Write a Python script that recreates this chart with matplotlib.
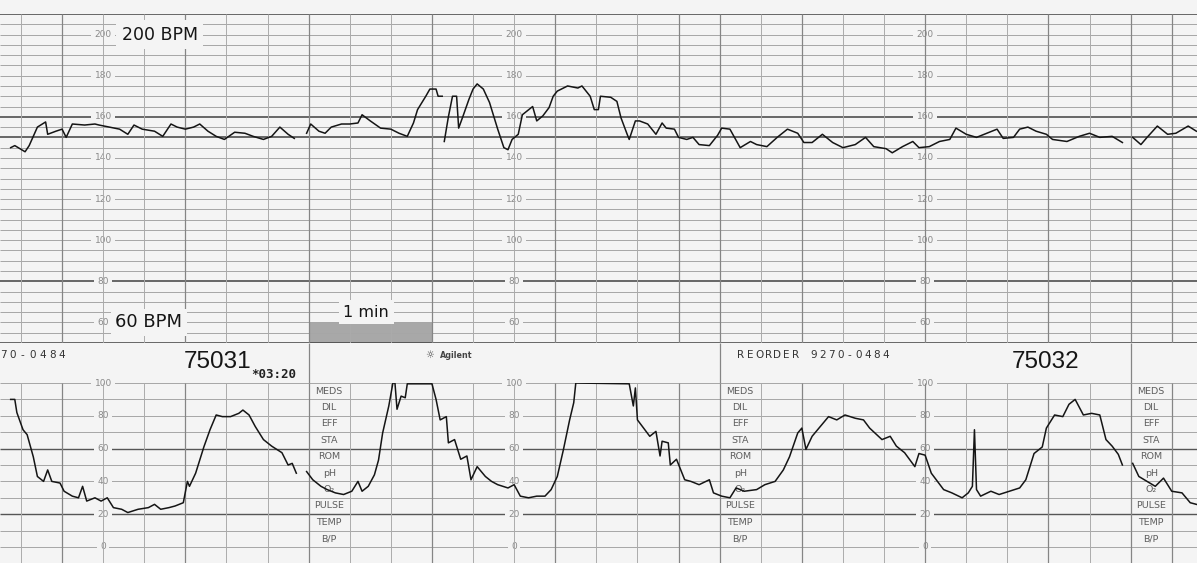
import numpy as np
import matplotlib.pyplot as plt
from matplotlib.patches import Rectangle

nan = np.nan

# time in seconds from the first minute line of the strip
fhr_t = [-25, -23, -18, -16, -12, -8, -7, -3, 0, 2, 5, 11, 16, 18, 23, 28, 32, 35, 39, 45,
         49, 53, 56, 60, 64, 67, 71, 75, 79, 84, 89, 93, 98, 102, 106, 110, 113, nan,
         119, 121, 125, 128, 131, 136, 140, 144, 146, 150, 155, 160, 164, 168, 171, 173, 177,
         179, 182, 183, 185, nan,
         186, 188, 190, 192, 193, 195, 198, 200, 202, 205, 208, 212, 215, 217, 219, 222, 224,
         229, 231, 234, 237, 239, 241, 246, 251, 253, 257, 259, 261, 262, 267, 270, 272, 275,
         276, 279, 281, 285, 289, 292, 294, 298, 300, 304, 307, 310, 315, 319, 321, 325, 330,
         335, 338, 343, 348, 353, 358, 361, 365, 370, 375, 380, 386, 391, 395, 401, 404, 409,
         414, 417, 422, 427, 432, 435, 440, 445, 450, 455, 458, 463, 466, 470, 474, 479, 482,
         489, 495, 500, 505, 511, 516, nan,
         521, 525, 528, 533, 538, 542, 548, 552]
fhr_bpm = [145, 146, 143, 146, 155, 157.5, 151.5, 153, 154, 150, 156.5, 156, 156.5, 156, 155,
           154, 151.5, 156, 154, 153, 150.5, 156.5, 155, 154, 155, 156.5, 153, 150.5, 149,
           152.5, 152, 150.5, 149, 150.5, 155, 151.5, 149.5, nan,
           152, 156.5, 153, 152, 155, 156.5, 156.5, 157, 161, 158, 154.5, 154, 152, 150.5, 157,
           163.5, 170, 173.5, 173.5, 170, 170, nan,
           148, 160, 170, 170, 154.5, 160, 168.5, 173.5, 176, 173.5, 167, 154, 145, 144, 149,
           151.5, 161, 165, 158, 160.5, 164.5, 170, 172.5, 175, 174, 175, 170, 163.5, 163.5,
           170, 169.5, 167.5, 159.5, 151.5, 149, 158, 158, 156.5, 151.5, 157, 154.5, 154, 150,
           149, 150, 146.5, 146, 151, 154.5, 154, 145, 148, 146.5, 145.5, 150, 154, 152, 147.5,
           147.5, 151.5, 147.5, 145, 146.5, 150, 145.5, 144.5, 142.5, 145.5, 148, 145, 145.5,
           148, 149, 154.5, 151.5, 150, 152, 154, 149.5, 150, 154, 155, 153, 151.5, 149, 148,
           150.5, 152, 150, 150.5, 147.5, nan,
           150, 146.5, 150, 155.5, 151.5, 152, 155.5, 153]

toco_t = [-25, -23, -22, -19, -17, -14, -12, -9, -7, -5, -1, 1, 5, 8, 10, 12, 16, 19, 22, 25,
          29, 32, 37, 42, 45, 48, 52, 55, 59, 61, 62, 65, 69, 72, 75, 78, 82, 86, 88, 91, 94,
          98, 102, 107, 110, 112, 114, nan,
          119, 122, 126, 129, 133, 137, 141, 144, 146, 149, 152, 154, 156, 159, 161, 162, 163,
          165, 167, 168, 180, 182, 184, 187, 188, 191, 194, 197, 199, 202, 206, 209, 212, 217,
          220, 223, 227, 231, 235, 238, 241, 244, 247, 249, 250, 276, 278, 279, 280, 283, 286,
          289, 291, 292, 295, 296, 299, 303, 306, 310, 315, 317, 321, 325, 328, 332, 338, 342,
          347, 351, 354, 358, 360, 362, 365, 369, 373, 377, 381, 386, 390, 393, 399, 403, 406,
          410, 415, 417, 420, 423, 429, 433, 438, 441, 443, 444, 445, 447, 452, 456, 461, 466,
          469, 473, 477, 479, 483, 487, 490, 493, 497, 501, 505, 508, 511, 514, 516, nan,
          521, 524, 528, 532, 536, 540, 545, 549, 552]
toco_val = [90, 90, 82, 71.5, 68.5, 55, 43, 40, 47, 40, 39, 34, 31, 30, 37, 28, 30, 28, 30, 24,
            23, 21, 23, 24, 26, 23, 24, 25, 27, 40, 37, 45, 61, 71.5, 80.5, 79.5, 79.5, 81.5,
            83.5, 80.5, 73.5, 65.5, 61.5, 57.5, 50, 51, 45, nan,
            46, 41, 37, 35, 33, 32, 34, 40, 34, 37, 44, 53, 69.5, 86, 100, 100, 84, 92, 91,
            99.5, 99.5, 90, 77.5, 79.5, 63.5, 65.5, 53.5, 55.5, 41, 49, 43, 40, 38, 36, 38, 31,
            30, 31, 31, 35, 43, 59.5, 77.5, 88, 100, 99.5, 86, 97, 77.5, 72.5, 67.5, 70.5, 55.5,
            64.5, 63.5, 50, 53.5, 41, 40, 38, 41, 33, 31, 30, 36, 34, 35, 38, 40, 47, 55, 69.5,
            72.5, 59.5, 67.5, 73.5, 79.5, 77.5, 80.5, 78.5, 77.5, 72.5, 65.5, 67.5, 61.5, 57.5,
            49, 57, 56, 45, 35, 33, 30, 33, 37, 71.5, 35, 31, 34, 32, 34, 36, 41, 57, 61, 72.5,
            80.5, 79.5, 87, 90, 80.5, 81.5, 80.5, 65.5, 61.5, 56.5, 50, nan,
            51, 43, 40, 37, 42, 34, 33, 27, 26]

fhr_labels = [60, 80, 100, 120, 140, 160, 180, 200]
toco_labels = [0, 20, 40, 60, 80, 100]
label_cols = [20, 220, 420]
meds_rows = ["MEDS", "DIL", "EFF", "STA", "ROM", "pH", "O₂", "PULSE", "TEMP", "B/P"]
meds_cols = [130, 330, 530]
page_marks = [120, 320, 520]

W, H = 1197, 563
T0, T1 = -30.2, 552.3
BG = '#f4f4f4'
INK = '#151515'

fig = plt.figure(figsize=(W / 100, H / 100), dpi=100)
fig.patch.set_facecolor(BG)

# whole-figure axes: x in seconds, y in pixel rows, for the header band
bg = fig.add_axes([0, 0, 1, 1])
bg.set_xlim(T0, T1)
bg.set_ylim(H, 0)
bg.axis('off')


def strip(top, bottom, lo, hi):
    ax = fig.add_axes([0, 1 - bottom / H, 1, (bottom - top) / H])
    ax.set_xlim(T0, T1)
    ax.set_ylim(lo, hi)
    ax.set_facecolor('none')
    ax.axis('off')
    return ax


fhr_ax = strip(14, 343, 50, 210)
toco_ax = strip(383, 563, -9.76, 100)

vt = np.arange(-20, 560, 20)
for ax, lo, hi in [(fhr_ax, 50, 210), (toco_ax, -9.76, 100)]:
    light = [t for t in vt if t % 60 and t not in page_marks]
    heavy = [t for t in vt if not t % 60 or t in page_marks]
    ax.vlines(light, lo, hi, color='#ababab', lw=0.7, zorder=2.5)
    ax.vlines(heavy, lo, hi, color='#858585', lw=0.9, zorder=2.5)

# FHR grid, every 5 bpm
for v in range(50, 211, 5):
    dark = v in (50, 80, 150, 160, 210)
    fhr_ax.hlines(v, T0, T1, color='#404040' if dark else '#a6a6a6',
                  lw=1.1 if dark else 0.7, zorder=1.5)
# toco grid, every 10
for v in range(0, 101, 10):
    dark = v in (20, 60)
    toco_ax.hlines(v, T0, T1, color='#555555' if dark else '#a6a6a6',
                   lw=1.0 if dark else 0.7, zorder=1.5)

for c in label_cols:
    for v in fhr_labels:
        fhr_ax.text(c, v, str(v), ha='center', va='center', fontsize=6.5, color='#8a8a8a',
                    zorder=2, bbox=dict(fc=BG, ec='none', pad=2.5))
    for v in toco_labels:
        toco_ax.text(c, v, str(v), ha='center', va='center', fontsize=6.5, color='#8a8a8a',
                     zorder=2, bbox=dict(fc=BG, ec='none', pad=2.5))

for c in meds_cols:
    for i, name in enumerate(meds_rows):
        toco_ax.text(c, 95 - 10 * i, name, ha='center', va='center', fontsize=6.8,
                     color='#5e5e5e', zorder=3)

# one-minute marker
fhr_ax.add_patch(Rectangle((120, 50), 60, 10, fc='#a8a8a8', ec='none', zorder=1.2))
fhr_ax.text(148, 65, "1 min", ha='center', va='center', fontsize=11.5, color=INK,
            zorder=5, bbox=dict(fc=BG, ec='none', pad=3.5))
fhr_ax.text(29, 200, "200 BPM", ha='left', va='center', fontsize=12.5, color=INK,
            zorder=5, bbox=dict(fc=BG, ec='none', pad=4))
fhr_ax.text(26, 60, "60 BPM", ha='left', va='center', fontsize=13, color=INK,
            zorder=5, bbox=dict(fc=BG, ec='none', pad=3))

fhr_ax.plot(fhr_t, fhr_bpm, color=INK, lw=1.1, zorder=4)
toco_ax.plot(toco_t, toco_val, color=INK, lw=1.1, zorder=4)

# header band between the two strips
bg.vlines(page_marks, 343, 383, color='#858585', lw=0.9)


def spaced(t0, y, s, step, **kw):
    for i, ch in enumerate(s):
        bg.text(t0 + i * step, y, ch, ha='center', va='center', **kw)


spaced(-28.7, 355, "70-0484", 4.77, fontsize=7.5, color='#333333')
spaced(330.4, 355, "REORDER 9270-0484", 4.41, fontsize=7.5, color='#333333')
bg.text(75.5, 368, "75031", ha='center', va='baseline', fontsize=17.5,
        family='Liberation Sans', color=INK)
bg.text(478.8, 368, "75032", ha='center', va='baseline', fontsize=17.5,
        family='Liberation Sans', color=INK)
bg.text(92, 378, "*03:20", ha='left', va='baseline', fontsize=9,
        family='DejaVu Sans Mono', weight='bold', color='#222222')
bg.text(179, 355, "☼", ha='center', va='center', fontsize=7, color='#444444')
bg.text(184, 355, "Agilent", ha='left', va='center', fontsize=5.8, weight='bold',
        color='#444444')

fig.savefig('out.png', dpi=100, facecolor=BG)
